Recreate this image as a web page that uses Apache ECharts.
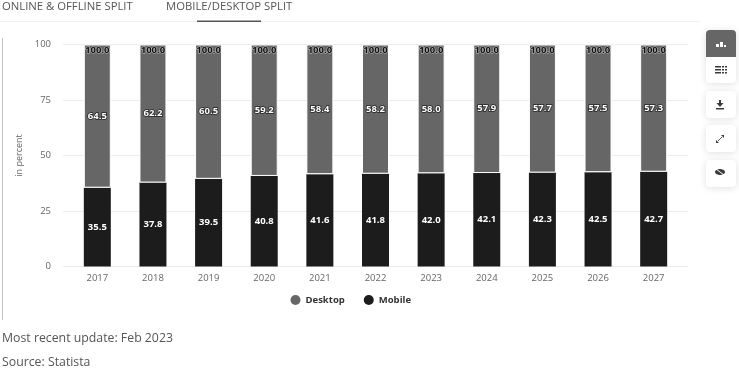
<!DOCTYPE html>
<html><head><meta charset="utf-8">
<style>html,body{margin:0;padding:0;background:#fff}#c{width:739px;height:369px}</style>
<script src="https://cdn.jsdelivr.net/npm/echarts@6/dist/echarts.min.js"></script>
</head><body><div id="c"></div>
<script>
const years=['2017','2018','2019','2020','2021','2022','2023','2024','2025','2026','2027'];
const mobile=[35.5,37.8,39.5,40.8,41.6,41.8,42.0,42.1,42.3,42.5,42.7];
const desktop=[64.5,62.2,60.5,59.2,58.4,58.2,58.0,57.9,57.7,57.5,57.3];
const totals=[100,100,100,100,100,100,100,100,100,100,100];
const yTicks=[0,25,50,75,100];
const F='"Open Sans",sans-serif';
const chart=echarts.init(document.getElementById('c'),null,{renderer:'canvas'});
function card(y,h){return {type:'rect',shape:{x:706,y:y,width:30,height:h,r:4},style:{fill:'#fff',shadowBlur:7,shadowColor:'rgba(0,0,0,0.13)',shadowOffsetY:1},z:1};}
function bar(x,y,w,h,fill){return {type:'rect',shape:{x:x,y:y,width:w,height:h},style:{fill:fill||'#3a3a3a'},z:3};}
function txt(x,y,t,size,fill){return {type:'text',x:x,y:y,style:{text:t,font:size+'px '+F,fill:fill||'#555',textVerticalAlign:'middle'},z:3};}
const graphic=[
 txt(2,7,'ONLINE & OFFLINE SPLIT',11.3,'#555'),
 txt(166,7,'MOBILE/DESKTOP SPLIT',11.3,'#555'),
 {type:'rect',shape:{x:0,y:21,width:700,height:1},style:{fill:'#f0f0f0'},z:1},
 {type:'rect',shape:{x:197,y:20.5,width:64,height:1.5},style:{fill:'#555'},z:2},
 {type:'rect',shape:{x:2,y:38,width:1,height:282},style:{fill:'#c4c4c4'},z:1},
 txt(2,338.5,'Most recent update: Feb 2023',12.3,'#555'),
 txt(2,362.5,'Source: Statista',12.3,'#555'),
 card(30,53),
 {type:'rect',shape:{x:706,y:30,width:30,height:27,r:[4,4,0,0]},style:{fill:'#666'},z:2},
 card(91,27),card(125,27),card(160,27),
 bar(716,44,3,3,'#fff'),bar(720,42,3,5,'#fff'),bar(724,45,2,2,'#fff'),
 bar(715,66,6,1.5),bar(715,69,6,1.5),bar(715,72,6,1.5),bar(722,66,2,1.5),bar(722,69,2,1.5),bar(722,72,2,1.5),bar(725,66,2,1.5),bar(725,69,2,1.5),bar(725,72,2,1.5),
 bar(716,108,8,1.5),bar(719,100,2,4),
 {type:'polygon',shape:{points:[[716.5,103],[723.5,103],[720,107]]},style:{fill:'#3a3a3a'},z:3},
 {type:'line',shape:{x1:718,y1:141,x2:722,y2:137},style:{stroke:'#555',lineWidth:1},z:3},
 {type:'polygon',shape:{points:[[716,143],[716,140],[719,143]]},style:{fill:'#3a3a3a'},z:3},
 {type:'polygon',shape:{points:[[724,135],[724,138],[721,135]]},style:{fill:'#3a3a3a'},z:3},
 {type:'ellipse',shape:{cx:720,cy:172,rx:5,ry:3},style:{fill:'#3a3a3a'},z:3},
 {type:'line',shape:{x1:716,y1:169,x2:724,y2:175},style:{stroke:'#fff',lineWidth:1},z:4}
];
const fmt=p=>p.value.toFixed(1);
const lab=(color,bc,bw,extra)=>Object.assign({show:true,formatter:fmt,color:color,fontSize:9.5,fontWeight:'bold',letterSpacing:0.6,textBorderColor:bc,textBorderWidth:bw},extra);
chart.setOption({
 animation:false,
 textStyle:{fontFamily:F},
 graphic:graphic,
 grid:[
  {left:69.5,width:612,top:44.5,height:222},
  {left:63,width:625,top:44.5,height:222}
 ],
 legend:{data:['Desktop','Mobile'],top:294,left:285.5,itemWidth:10,itemHeight:10,itemGap:19,icon:'circle',
  top:290,itemStyle:{borderWidth:0},
  textStyle:{fontFamily:F,fontSize:9.5,fontWeight:'bold',color:'#333'}},
 xAxis:[
  {type:'category',gridIndex:0,data:years,axisLine:{show:false},axisTick:{show:false},
   axisLabel:{color:'#666',fontSize:9.5,margin:7,letterSpacing:0.6}},
  {type:'category',gridIndex:1,data:years,show:false}
 ],
 yAxis:[
  {type:'value',gridIndex:0,min:0,max:100,show:false},
  {type:'value',gridIndex:1,min:0,max:100,interval:25,
   name:'in percent',nameLocation:'middle',nameGap:37,nameTextStyle:{color:'#666',fontSize:9},
   axisLine:{show:false},axisTick:{show:false},
   axisLabel:{color:'#666',fontSize:9.5,margin:12,letterSpacing:0.6,customValues:yTicks},
   splitLine:{lineStyle:{color:'#ececec',width:1}}}
 ],
 series:[
  {name:'Mobile',type:'bar',stack:'s',xAxisIndex:0,yAxisIndex:0,data:mobile,barWidth:27,
   itemStyle:{color:'#1c1c1c'},
   label:lab('#fff','#1c1c1c',1.5,{position:'inside'})},
  {name:'Desktop',type:'bar',stack:'s',xAxisIndex:0,yAxisIndex:0,data:desktop,barWidth:27,
   itemStyle:{color:'#666666',borderColor:'#fff',borderWidth:1},
   label:lab('#fff','#222',1.5,{position:'inside'})},
  {name:'Total',type:'line',xAxisIndex:0,yAxisIndex:0,data:totals,symbol:'circle',symbolSize:1,showSymbol:true,
   itemStyle:{color:'rgba(0,0,0,0)'},lineStyle:{opacity:0},z:5,
   label:lab('#111','rgba(255,255,255,0.6)',1,{position:'bottom',distance:0})},
  {name:'axisHolder',type:'line',xAxisIndex:1,yAxisIndex:1,data:[],silent:true}
 ]
});
</script></body></html>
